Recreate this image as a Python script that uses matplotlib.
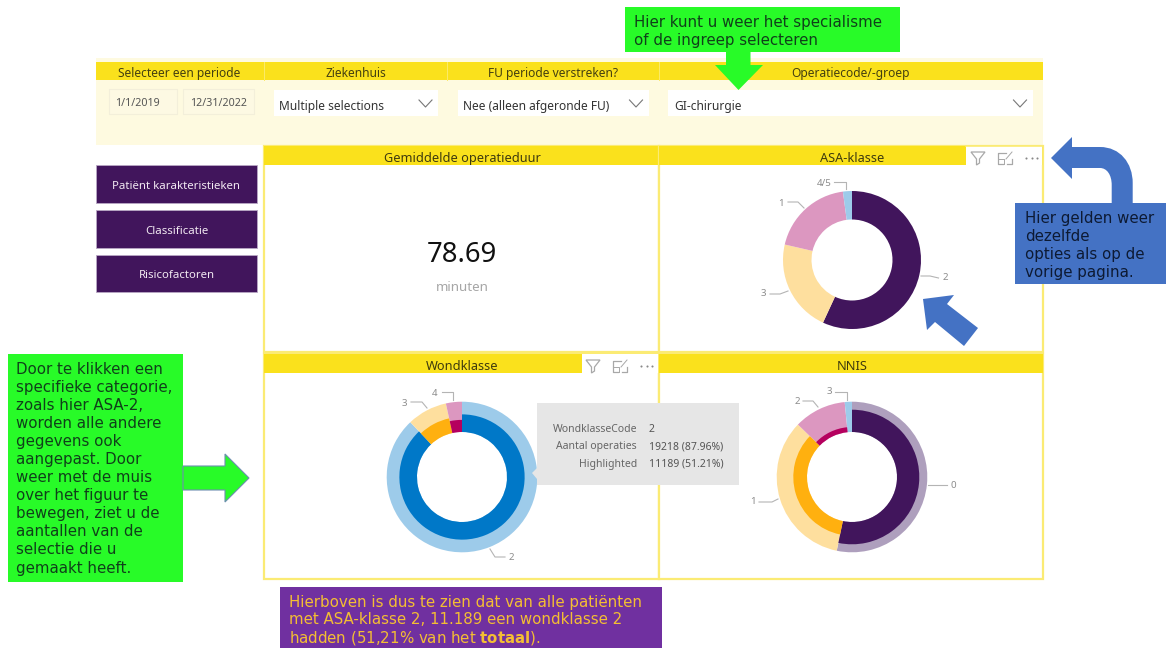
#!/usr/bin/env python3
import matplotlib
matplotlib.use('Agg')
import matplotlib.pyplot as plt
from matplotlib.patches import Rectangle, Polygon, PathPatch
from matplotlib.path import Path

W, H = 1166, 648

YELLOW = '#FAE11C'
PALE = '#FEFAE0'
LINE = '#FBEB74'
PURPLE = '#41155C'
GREEN = '#28FB28'
BLUE = '#4472C4'
GREY = '#8C8C8C'
UI = 'Noto Sans'

# slicers
slicer_titles = ['Selecteer een periode', 'Ziekenhuis', 'FU periode verstreken?', 'Operatiecode/-groep']
date_values = ['1/1/2019', '12/31/2022']
dropdown_values = ['Multiple selections', 'Nee (alleen afgeronde FU)', 'GI-chirurgie']
button_labels = ['Patiënt karakteristieken', 'Classificatie', 'Risicofactoren']
panel_titles = ['Gemiddelde operatieduur', 'ASA-klasse', 'Wondklasse', 'NNIS']

# KPI
kpi_value = '78.69'
kpi_unit = 'minuten'

# donuts: share in %, in drawing order
asa_labels = ['2', '3', '1', '4/5']
asa_shares = [56.9, 21.7, 19.3, 2.1]

wond_labels = ['2', '3', '4']
wond_shares = [87.96, 8.6, 3.44]
wond_highlight = [0.582, 0.495, 0.40]

nnis_labels = ['0', '1', '2', '3']
nnis_shares = [53.25, 34.0, 11.2, 1.55]
nnis_highlight = [0.736, 0.452, 0.165, 0.0]

tooltip_names = ['WondklasseCode', 'Aantal operaties', 'Highlighted']
tooltip_values = ['2', '19218 (87.96%)', '11189 (51.21%)']

note_top = ['Hier kunt u weer het specialisme', 'of de ingreep selecteren']
note_right = ['Hier gelden weer', 'dezelfde', 'opties als op de', 'vorige pagina.']
note_left = ['Door te klikken een', 'specifieke categorie,', 'zoals hier ASA-2,', 'worden alle andere',
             'gegevens ook', 'aangepast. Door', 'weer met de muis', 'over het figuur te',
             'bewegen, ziet u de', 'aantallen van de', 'selectie die u', 'gemaakt heeft.']
note_bottom = ['Hierboven is dus te zien dat van alle patiënten', 'met ASA-klasse 2, 11.189 een wondklasse 2',
               'hadden (51,21% van het $\\mathbf{totaal}$).']

plt.rcParams['mathtext.fontset'] = 'dejavusans'
fig = plt.figure(figsize=(W / 100, H / 100), dpi=100, facecolor='white')
ax = fig.add_axes([0, 0, 1, 1], zorder=1)
ax.set_xlim(0, W)
ax.set_ylim(H, 0)
ax.axis('off')
top = fig.add_axes([0, 0, 1, 1], zorder=3)
top.set_xlim(0, W)
top.set_ylim(H, 0)
top.axis('off')


def box(a, x0, y0, x1, y1, color, **kw):
  a.add_patch(Rectangle((x0, y0), x1 - x0, y1 - y0, facecolor=color, edgecolor=kw.pop('edge', 'none'), **kw))


def label(a, x, y, s, size=9, color='#333333', ha='center', family=UI, **kw):
  a.text(x, y, s, fontsize=size, color=color, ha=ha, va='center_baseline', family=family, **kw)


def chevron(x, y):
  ax.plot([x - 6.5, x, x + 6.5], [y - 4, y + 3, y - 4], color='#777777', lw=0.8)


def icons(x0, y):
  c = '#A8A8A8'
  ax.add_patch(Polygon([(x0 - 7, y - 6), (x0 + 7, y - 6), (x0 + 1.5, y + 1), (x0 + 1.5, y + 5), (x0 - 1.5, y + 7), (x0 - 1.5, y + 1)],
                       closed=True, facecolor='white', edgecolor=c, lw=0.9))
  fx = x0 + 27
  ax.plot([fx + 1, fx - 7, fx - 7, fx - 2], [y - 5, y - 5, y + 6, y + 6], color=c, lw=0.9)
  ax.plot([fx + 2, fx + 7, fx + 7], [y + 6, y + 6, y + 1], color=c, lw=0.9)
  ax.plot([fx - 7, fx - 1, fx - 1], [y + 1, y + 1, y + 6], color=c, lw=0.7)
  ax.plot([fx + 1, fx + 7], [y + 1, y - 6], color=c, lw=0.7)
  ax.plot([x0 + 48, x0 + 53.5, x0 + 59], [y, y, y], ls='none', marker='o', ms=1.5, mew=0, color='#888888')


def donut(cx, cy, R, hole, shares, colors, highlight=None, dark=None):
  a = fig.add_axes([(cx - R - 2) / W, 1 - (cy + R + 2) / H, (2 * R + 4) / W, (2 * R + 4) / H], zorder=2)
  a.pie(shares, colors=colors, radius=R, startangle=90, counterclock=False, normalize=True,
        wedgeprops=dict(width=R - hole, linewidth=0))
  if highlight is not None:
    inner, _ = a.pie(shares, colors=dark, radius=R, startangle=90, counterclock=False, normalize=True,
                     wedgeprops=dict(width=R - hole, linewidth=0))
    for w, frac in zip(inner, highlight):
      r = hole + (R - hole) * frac
      w.set_radius(r)
      w.set_width(r - hole)
  a.set_xlim(-R - 2, R + 2)
  a.set_ylim(-R - 2, R + 2)
  a.axis('off')


def leader(x, y, s, xs, ys):
  ax.plot(xs, ys, color='#B4B4B4', lw=0.8)
  label(ax, x, y, s, size=7, color=GREY)


# slicer panel
box(ax, 96, 58, 1043, 145, PALE)
box(ax, 96, 62, 1043, 80, YELLOW)
for x in [264, 447, 659]:
  ax.plot([x, x], [62, 80], color='#FCEB6A', lw=0.7)
for x, s in zip([179.5, 355.5, 553, 851], slicer_titles):
  label(ax, x, 72, s, size=8.6, color='#443F10')
for x0, x1, x, s in zip([108.5, 183], [177, 254], [115, 190], date_values):
  box(ax, x0, 89, x1, 114, '#FDF9E3', edge='#F3EFDA', lw=0.8)
  label(ax, x, 102, s, size=7.7, color='#555555', ha='left')
for x0, x1, x, s, cx in zip([274, 458, 668], [438, 649, 1033], [279, 463, 674], dropdown_values, [425.5, 636, 1020]):
  box(ax, x0, 90, x1, 116, 'white')
  label(ax, x, 105, s, size=8.6, ha='left')
  chevron(cx, 104)

# buttons
for y0, y1, s in zip([165, 210, 255], [203, 248, 292], button_labels):
  box(ax, 96, y0, 257, y1, PURPLE, edge='#B9A8C4', lw=0.6)
  label(ax, 176.5, (y0 + y1) / 2 + 1, s, size=8.2, color='#F2E9F2')

# panels
for x0, x1, y0, y1, s in zip([264, 659, 264, 659], [659, 1043, 659, 1043], [146, 146, 354, 354],
                             [352, 352, 579, 579], panel_titles):
  box(ax, x0, y0, x1, y1, 'white', edge=LINE, lw=1.6)
  box(ax, x0, y0, x1, y0 + 19, YELLOW)
  tx = {'ASA-klasse': 852, 'Wondklasse': 462, 'NNIS': 852}.get(s, 462)
  label(ax, tx, y0 + 11, s, size=9.2, color='#3E3A0E')
box(ax, 966, 146, 1042, 165, 'white')
ax.plot([966, 1043, 1043], [146, 146, 165], color=LINE, lw=1.2)
box(ax, 582, 354, 658, 373, 'white')
icons(978, 158)
icons(593, 366)

label(ax, 462, 252, kpi_value, size=19.8, color='#111111')
label(ax, 462, 286, kpi_unit, size=9.6, color='#A6A6A6')

# donuts
donut(852, 260, 69, 40.5, asa_shares, [PURPLE, '#FEDF9E', '#DC97C0', '#9DCBEA'])
donut(462, 477, 75.3, 45, wond_shares, ['#9DCBEA', '#FEDF9E', '#DC97C0'], wond_highlight,
      ['#0078C8', '#FFB00F', '#B5005E'])
donut(852, 477, 75.3, 45, nnis_shares, ['#AE9FBD', '#FEDF9E', '#DC97C0', '#9DCBEA'], nnis_highlight,
      [PURPLE, '#FFB00F', '#B5005E', '#0078C8'])

leader(824, 182, '4/5', [834, 846, 846], [182, 182, 189])
leader(781, 202, '1', [788, 798, 804], [202, 202, 208])
leader(763.5, 293, '3', [770, 780, 788], [294, 294, 291])
leader(945.5, 277, '2', [921, 930, 938.5], [276, 276, 278])
leader(435, 392, '4', [442, 453, 453], [392, 392, 400])
leader(404, 402, '3', [411, 422, 427], [402, 402, 408])
leader(511, 556, '2', [505, 495, 490], [557, 557, 549])
leader(829, 391, '3', [835, 847, 847], [392, 392, 400])
leader(797, 400, '2', [803, 813, 818], [401, 401, 407])
leader(753, 501, '1', [759, 772, 778], [502, 502, 499])
leader(953, 485, '0', [928, 947], [485, 485])

# tooltip
top.add_patch(Polygon([(537, 403), (739, 403), (739, 485), (537, 485), (537, 479), (532, 473), (537, 468)],
                      closed=True, facecolor='#E6E6E6', edgecolor='none'))
for y, n, v in zip([428, 445.5, 463], tooltip_names, tooltip_values):
  label(top, 637, y, n, size=7.5, color='#666666', ha='right')
  label(top, 649, y, v, size=7.5, color='#555555', ha='left')

# annotation boxes
box(top, 625, 7, 900, 52, GREEN)
for y, s in zip([21, 39], note_top):
  label(top, 634, y, s, size=10.8, color='#10401A', ha='left', family='DejaVu Sans')
top.add_patch(Polygon([(726, 52), (750.5, 52), (750.5, 65), (763, 65), (738.5, 90), (715, 65), (726, 65)],
                      closed=True, facecolor=GREEN, edgecolor='none'))

box(top, 1015, 203, 1166, 284, BLUE)
for y, s in zip([217, 235, 253, 271], note_right):
  label(top, 1025, y, s, size=10.8, color='#0D1A33', ha='left', family='DejaVu Sans')
curve = Path([(1051, 158), (1072, 137), (1072, 147), (1100, 147), (1120, 147), (1132.7, 163), (1132.7, 183),
              (1132.7, 203), (1111.7, 203), (1111.7, 185), (1111.7, 175), (1107, 168), (1100, 168),
              (1072, 168), (1072, 179), (1051, 158)],
             [Path.MOVETO, Path.LINETO, Path.LINETO, Path.LINETO, Path.CURVE4, Path.CURVE4, Path.CURVE4,
              Path.LINETO, Path.LINETO, Path.LINETO, Path.CURVE4, Path.CURVE4, Path.CURVE4,
              Path.LINETO, Path.LINETO, Path.CLOSEPOLY])
top.add_patch(PathPatch(curve, facecolor=BLUE, edgecolor='none'))
top.add_patch(Polygon([(923, 299), (954, 295), (947, 304), (978, 328), (964, 346), (935, 322), (927, 330)],
                      closed=True, facecolor=BLUE, edgecolor='none'))

box(top, 8, 354, 183, 582, GREEN)
for i, s in enumerate(note_left):
  label(top, 16.5, 368 + i * 18.05, s, size=10.8, color='#10401A', ha='left', family='DejaVu Sans')
top.add_patch(Polygon([(183, 466), (225, 466), (225, 454), (249, 478), (225, 502), (225, 490), (183, 490)],
                      closed=True, facecolor=GREEN, edgecolor='#6E8FB0', lw=0.8))

box(top, 280, 587, 662, 648, '#7030A0')
for y, s in zip([601, 618.5, 636], note_bottom):
  label(top, 289, y, s, size=10.8, color='#F4BE33', ha='left', family='DejaVu Sans')

fig.savefig('out.png', dpi=100)
